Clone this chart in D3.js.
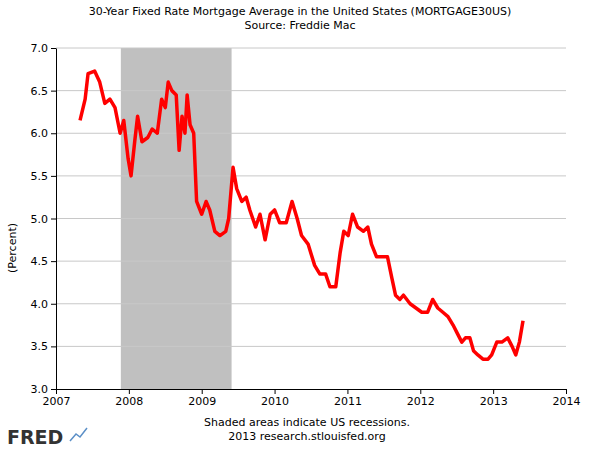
<!DOCTYPE html>
<html><head><meta charset="utf-8">
<script src="https://cdn.jsdelivr.net/npm/d3@7"></script>
<style>body{margin:0;background:#fff}text{font-family:"DejaVu Sans",sans-serif}</style>
</head><body>
<script>
// decimal years and rates
var years = [2007.33,2007.40,2007.44,2007.53,2007.60,2007.67,2007.74,2007.81,2007.88,2007.93,2007.99,2008.03,2008.08,2008.12,2008.18,2008.26,2008.32,2008.39,2008.45,2008.50,2008.54,2008.59,2008.65,2008.69,2008.73,2008.77,2008.80,2008.84,2008.89,2008.93,2009.00,2009.06,2009.11,2009.18,2009.25,2009.33,2009.37,2009.43,2009.48,2009.55,2009.61,2009.66,2009.74,2009.80,2009.87,2009.94,2010.00,2010.07,2010.16,2010.24,2010.31,2010.37,2010.46,2010.55,2010.62,2010.70,2010.76,2010.84,2010.90,2010.95,2011.01,2011.07,2011.14,2011.22,2011.28,2011.33,2011.40,2011.47,2011.55,2011.61,2011.66,2011.72,2011.77,2011.86,2011.94,2012.02,2012.10,2012.17,2012.24,2012.31,2012.38,2012.45,2012.51,2012.57,2012.62,2012.68,2012.73,2012.79,2012.86,2012.93,2012.98,2013.05,2013.12,2013.20,2013.26,2013.31,2013.36,2013.41];
var rates = [6.15,6.4,6.7,6.73,6.6,6.35,6.4,6.3,6.0,6.15,5.7,5.5,5.9,6.2,5.9,5.95,6.05,6.0,6.4,6.3,6.6,6.5,6.45,5.8,6.2,6.0,6.45,6.1,6.0,5.2,5.05,5.2,5.1,4.85,4.8,4.85,5.0,5.6,5.35,5.2,5.25,5.1,4.9,5.05,4.75,5.05,5.1,4.95,4.95,5.2,5.0,4.8,4.7,4.45,4.35,4.35,4.2,4.2,4.6,4.85,4.8,5.05,4.9,4.85,4.9,4.7,4.55,4.55,4.55,4.3,4.1,4.05,4.1,4.0,3.95,3.9,3.9,4.05,3.95,3.9,3.85,3.75,3.65,3.55,3.6,3.6,3.45,3.4,3.35,3.35,3.4,3.55,3.55,3.6,3.5,3.4,3.55,3.8];
var recession = [2007.89, 2009.41];
var xTicks = [2007,2008,2009,2010,2011,2012,2013,2014];
var yTicks = [3.0,3.5,4.0,4.5,5.0,5.5,6.0,6.5,7.0];

var svg = d3.select('body').append('svg').attr('width',600).attr('height',450);
var x = d3.scaleLinear().domain([2007,2014]).range([56,566]);
var y = d3.scaleLinear().domain([3,7]).range([389,48]);

svg.append('rect').attr('x',x(recession[0])).attr('y',y(7))
  .attr('width',x(recession[1])-x(recession[0])).attr('height',y(3)-y(7)).attr('fill','#c0c0c0');

svg.selectAll('.grid').data(yTicks.slice(1)).enter().append('line')
  .attr('x1',56).attr('x2',566).attr('y1',d=>y(d)).attr('y2',d=>y(d))
  .attr('stroke','#c8c8c8').attr('stroke-width',1);

var line = d3.line().x((d,i)=>x(years[i])).y(d=>y(d)).curve(d3.curveLinear);
svg.append('path').datum(rates).attr('d',line).attr('fill','none')
  .attr('stroke','#ff0000').attr('stroke-width',3.5).attr('stroke-linejoin','round');

var xa = svg.append('g').attr('transform','translate(0,389)')
  .call(d3.axisBottom(x).tickValues(xTicks).tickFormat(d3.format('d')).tickSize(5).tickSizeOuter(0));
var ya = svg.append('g').attr('transform','translate(56,0)')
  .call(d3.axisLeft(y).tickValues(yTicks).tickFormat(d3.format('.1f')).tickSize(5).tickSizeOuter(0));
[xa,ya].forEach(a=>{a.selectAll('text').attr('font-size',11).attr('fill','#000').attr('font-family','DejaVu Sans');
  a.selectAll('line,path').attr('stroke','#000');});

function t(txt,xp,yp){return svg.append('text').attr('x',xp).attr('y',yp).attr('text-anchor','middle').attr('font-size',11).text(txt);}
t('30-Year Fixed Rate Mortgage Average in the United States (MORTGAGE30US)',300,15);
t('Source: Freddie Mac',300,29);
t('Shaded areas indicate US recessions.',307,426);
t('2013 research.stlouisfed.org',307,440);
svg.append('text').attr('transform','translate(16,248) rotate(-90)').attr('text-anchor','middle').attr('font-size',11).text('(Percent)');
svg.append('text').attr('x',7).attr('y',444).attr('font-size',19).attr('font-weight','bold').attr('fill','#333').text('FRED');
svg.append('path').attr('d','M70,441 L76,434 L80,437 L87,428').attr('stroke','#5b8fc7').attr('stroke-width',1.5).attr('fill','none');
</script>
</body></html>
